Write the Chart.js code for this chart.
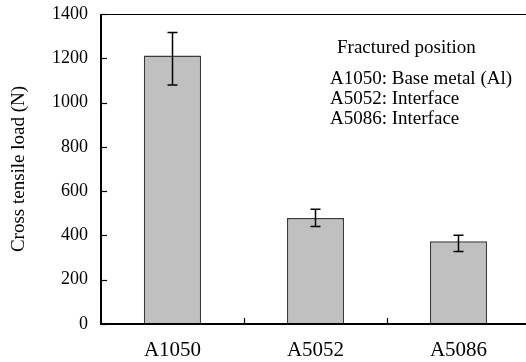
<!DOCTYPE html>
<html>
<head>
<meta charset="utf-8">
<script src="https://cdn.jsdelivr.net/npm/chart.js@4/dist/chart.umd.min.js"></script>
<style>
  html, body { margin: 0; padding: 0; background: #fff; overflow: hidden; }
  #wrap { width: 532px; height: 362px; }
</style>
</head>
<body>
<div id="wrap"><canvas id="c" width="532" height="362"></canvas></div>
<script>
const categories = ['A1050', 'A5052', 'A5086'];
const loads = [1213, 479, 374];
const errHigh = [1316, 518, 401];
const errLow = [1079, 440, 327];
const yTicks = [0, 200, 400, 600, 800, 1000, 1200, 1400];
const yTitle = 'Cross tensile load (N)';
const noteLines = ['Fractured position', 'A1050: Base metal (Al)', 'A5052: Interface', 'A5086: Interface'];

const FONT = "'Liberation Serif', 'Times New Roman', serif";

const framePlugin = {
  id: 'frame',
  afterDatasetsDraw(chart) {
    const ctx = chart.ctx;
    const ca = chart.chartArea;
    const x = chart.scales.x, y = chart.scales.y;
    const meta = chart.getDatasetMeta(0);
    ctx.save();
    ctx.strokeStyle = '#000';
    ctx.lineWidth = 1.5;
    meta.data.forEach((bar, i) => {
      const cx = bar.x;
      const yh = y.getPixelForValue(errHigh[i]);
      const yl = y.getPixelForValue(errLow[i]);
      ctx.beginPath();
      ctx.moveTo(cx, yh); ctx.lineTo(cx, yl);
      ctx.moveTo(cx - 5, yh); ctx.lineTo(cx + 5, yh);
      ctx.moveTo(cx - 5, yl); ctx.lineTo(cx + 5, yl);
      ctx.stroke();
    });
    ctx.strokeStyle = '#000';
    ctx.lineWidth = 1;
    ctx.beginPath();
    ctx.moveTo(ca.left, ca.top + 0.5); ctx.lineTo(ca.right, ca.top + 0.5);
    ctx.stroke();
    ctx.lineWidth = 2;
    ctx.beginPath();
    ctx.moveTo(ca.left, ca.top); ctx.lineTo(ca.left, ca.bottom);
    ctx.lineTo(ca.right, ca.bottom);
    ctx.stroke();
    ctx.lineWidth = 1.2;
    yTicks.forEach(v => {
      const py = Math.round(y.getPixelForValue(v)) + 0.5;
      ctx.beginPath();
      ctx.moveTo(ca.left, py); ctx.lineTo(ca.left + 6, py);
      ctx.stroke();
    });
    for (let i = 1; i < categories.length; i++) {
      const px = Math.round((x.getPixelForValue(i - 1) + x.getPixelForValue(i)) / 2) + 0.5;
      ctx.beginPath();
      ctx.moveTo(px, ca.bottom); ctx.lineTo(px, ca.bottom - 6);
      ctx.stroke();
    }
    ctx.fillStyle = '#000';
    ctx.font = '19px ' + FONT;
    ctx.textBaseline = 'middle';
    ctx.textAlign = 'left';
    ctx.fillText(noteLines[0], 337, 48);
    for (let i = 1; i < noteLines.length; i++) {
      ctx.fillText(noteLines[i], 330, 79 + (i - 1) * 20);
    }
    ctx.restore();
  }
};

new Chart(document.getElementById('c'), {
  type: 'bar',
  data: {
    labels: categories,
    datasets: [{
      data: loads,
      backgroundColor: '#c0c0c0',
      borderColor: '#3a3a3a',
      borderWidth: 1.5,
      barPercentage: 0.4,
      categoryPercentage: 1.0
    }]
  },
  options: {
    responsive: false,
    animation: false,
    events: [],
    layout: { padding: { left: 0, top: 14, right: 2, bottom: 0 } },
    plugins: { legend: { display: false }, tooltip: { enabled: false } },
    scales: {
      x: {
        offset: true,
        grid: { display: false, drawTicks: false },
        border: { display: false },
        ticks: { color: '#000', font: { family: FONT, size: 21 }, padding: 14, maxRotation: 0 },
        afterFit(s) { s.height = 38; s.paddingLeft = 0; s.paddingRight = 0; }
      },
      y: {
        min: 0, max: 1400,
        afterBuildTicks(s) { s.ticks = yTicks.map(v => ({ value: v })); },
        grid: { display: false, drawTicks: false },
        border: { display: false },
        ticks: { color: '#000', font: { family: FONT, size: 18 }, padding: 13, callback: v => String(v) },
        title: { display: true, text: yTitle, color: '#000', font: { family: FONT, size: 19 }, padding: { top: 8, bottom: 0 } },
        afterFit(s) { s.width = 101; s.paddingTop = 0; s.paddingBottom = 0; }
      }
    }
  },
  plugins: [framePlugin]
});
</script>
</body>
</html>
